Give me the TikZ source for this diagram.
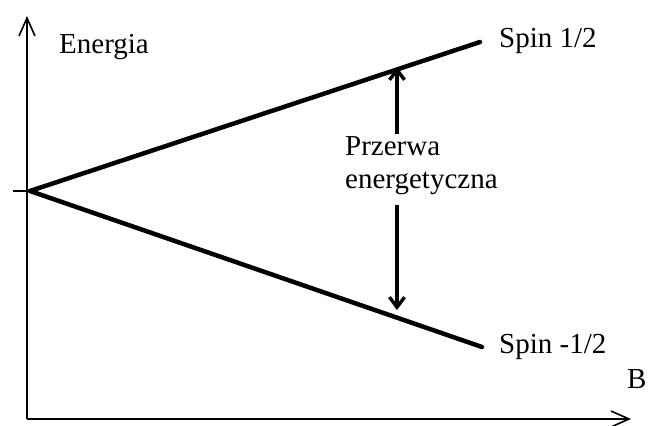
\documentclass[tikz,border=0pt]{standalone}
\usepackage{fontspec}
\setmainfont{Liberation Serif}
\usetikzlibrary{arrows.meta}
\begin{document}
\begin{tikzpicture}[x=1pt,y=-1pt,
  axis/.style={line width=1.6pt},
  level/.style={line width=4.5pt,line cap=round},
  gap/.style={line width=3.4pt,-{Straight Barb[length=10pt,width=15pt]}},
  label/.style={anchor=base west,inner sep=0pt,font=\fontsize{29}{34}\selectfont}]
\useasboundingbox (0,0) rectangle (649,426);
\fill[white] (0,0) rectangle (649,426);

% axes
\coordinate (O) at (27,419);
\coordinate (Ytop) at (27,16);
\coordinate (Xend) at (631,419);
\draw[axis,-{Straight Barb[length=18pt,width=16pt]}] (O) -- (Ytop);
\draw[axis,-{Straight Barb[length=18pt,width=16pt]}] (O) -- (Xend);

% zero-field tick and the two split levels
\coordinate (V) at (30,191);
\coordinate (T) at (13,191);
\coordinate (Up) at (480,42);
\coordinate (Dn) at (482,347);
\draw[axis] (T) -- (V);
\draw[level] (V) -- (Up);
\draw[level] (V) -- (Dn);

% labels
\node[label] (energia) at (59,53) {Energia};
\node[label] (spinup) at (499,47) {Spin 1/2};
\node[label] (spindn) at (499,353) {Spin -1/2};
\node[label] (bfield) at (627,388) {B};
\node[label] (przerwa) at (345,155) {Przerwa};
\node[label] (energet) at (345,188) {energetyczna};

% gap arrows
\coordinate (gapTop) at (397,134);
\coordinate (gapUp) at (397,67);
\coordinate (gapBot) at (397,205);
\coordinate (gapDn) at (397,310);
\draw[gap] (gapTop) -- (gapUp);
\draw[gap] (gapBot) -- (gapDn);
\end{tikzpicture}
\end{document}
